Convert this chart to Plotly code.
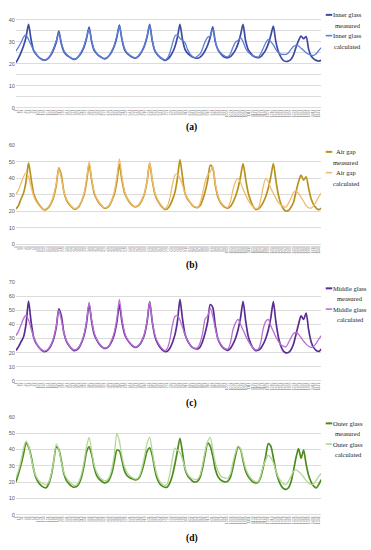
import plotly.graph_objects as go

# ---- shared x (hours, 2 h step) ----
hours = list(range(0, 243, 2))
samples = [6 * h + 1 for h in hours]   # 10-min record index

# ---- (a) Inner glass ----
inner_measured = [
    20.5, 22.5, 25, 28, 32, 37.8, 31, 26, 24.3, 23, 22.2, 21.6,
    21.8, 22.6, 24.2, 26.6, 29.8, 34.8, 29, 25.5, 24, 23.2, 22.5, 22,
    22.4, 23.5, 25.2, 27.6, 31.5, 36.6, 30, 26, 24.5, 23.5, 22.8, 22.2,
    22.6, 23.7, 25.5, 28, 32, 37.5, 31, 26.5, 24.8, 23.8, 23, 22.5,
    22.8, 24, 25.8, 28.3, 32.3, 37.8, 30.5, 26, 24.2, 23, 22.2, 21.5,
    22, 23.1, 25, 27.7, 32, 37.8, 31, 26.5, 24.8, 23.8, 23, 22.6,
    22.5, 23, 24.2, 26, 28.5, 32, 36.7, 30, 26.5, 24.8, 23.5, 22.8,
    22.7, 23.2, 24.5, 26.3, 29, 33, 37.8, 30.5, 26.5, 24.8, 23.5, 23,
    22.7, 23.2, 24.5, 26.3, 29, 32.8, 37, 30, 25.5, 23, 21.5, 21,
    21.2, 22, 24, 27.5, 30.5, 32.5, 31.3, 32.3, 26.5, 23.5, 22.2, 21.5,
    21.2, 21.5]
inner_calculated = [
    25.7, 27.5, 29.5, 32, 33, 31, 28.5, 26.3, 24.5, 23, 22, 21.6,
    21.8, 22.8, 24.6, 27.2, 30.5, 34, 29.5, 26, 24.3, 23.3, 22.6, 22,
    22.4, 23.7, 25.6, 28.2, 32, 35.8, 30.5, 26.5, 24.8, 23.6, 22.9, 22.4,
    22.7, 23.9, 25.8, 28.5, 32.5, 37, 31.3, 27, 25, 24, 23.2, 22.7,
    23, 24.2, 26, 28.6, 32.6, 37.5, 30.8, 26.3, 24.4, 23.2, 22.3, 21.7,
    22.5, 25, 29, 32.5, 33, 31.5, 30.5, 29.5, 26.5, 24.5, 23.3, 22.8,
    23.5, 24.5, 27, 30, 32, 32.5, 35.8, 30, 26.5, 25, 24, 23.3,
    23.2, 24.5, 27.5, 29.8, 30.5, 31.8, 30, 27, 25.3, 24.3, 23.6, 23.2,
    23, 24.5, 27, 29.5, 31, 30, 28.5, 26.5, 25, 24.3, 24.2, 24.2,
    25, 26.5, 27.8, 28.4, 28, 27, 26, 25, 24.3, 23.9, 23.8, 24.5,
    26, 27.3]

# ---- (b) Air gap ----
air_measured = [
    21.4, 23.5, 27.5, 31, 38, 49.4, 40, 31, 27, 24.5, 22.5, 21,
    21.2, 22.5, 25, 29, 36, 46.4, 42, 32, 27, 24.5, 22.8, 21.4,
    21.6, 23, 26, 30, 38, 48.8, 39, 31, 27.5, 25, 23.3, 22,
    22.2, 23.5, 26.5, 30.5, 38, 48.5, 39, 31.5, 28, 25.5, 23.8, 22.8,
    23, 24.3, 27, 31, 38.5, 49.4, 39, 31, 27, 24.5, 22.5, 21.2,
    21.5, 23.5, 27, 31.5, 40, 51.4, 41, 31, 27.5, 25.5, 23.5, 22.5,
    22.3, 23.5, 27, 32, 39, 48, 46.5, 36, 29, 25.5, 23.5, 22.4,
    22, 23, 25.5, 29, 34, 41, 49, 40, 31.5, 26.5, 23, 21.2,
    21.5, 23, 25.5, 29, 34, 41, 49, 39, 30, 24.5, 21.5, 20.2,
    20.5, 22.5, 25.5, 32, 38, 42, 39, 41, 34, 27.5, 24, 22,
    21, 22]
air_calculated = [
    30.4, 33, 37, 41, 43.4, 41, 35, 29.5, 26, 24, 22.2, 21.2,
    21.6, 23, 25.5, 30, 37, 46, 40, 32, 27.5, 25, 23.2, 21.8,
    22, 23.5, 26.5, 31, 39.5, 50.2, 40, 32, 28, 25.5, 23.6, 22.3,
    22.5, 24, 27, 32, 41, 51.8, 41, 32.5, 28.5, 26, 24.2, 23,
    23.3, 24.8, 27.5, 31.5, 39, 49.5, 39.5, 31.5, 27.5, 25, 23, 21.6,
    23, 28, 36, 42, 42.5, 40, 36, 31, 28, 25.5, 23.7, 22.8,
    22.5, 25, 31, 38, 42, 44, 47, 37, 30, 26, 24, 22.8,
    22.5, 26, 33, 38, 40, 37.5, 33.5, 30, 27, 24.5, 22.7, 21.8,
    22, 27, 35, 40, 38, 34, 31, 28, 25.5, 23.8, 23, 22.5,
    25, 28, 31.5, 32.4, 31, 28.5, 26, 23.5, 22.2, 22, 23.5, 26,
    29, 31]

# ---- (c) Middle glass ----
middle_measured = [
    21.4, 24, 27.5, 31, 40, 56.4, 42, 31, 26.5, 24, 22, 20.8,
    21, 22.5, 25.5, 30, 38, 51, 46, 34, 28, 25, 22.8, 21.4,
    21.8, 23.5, 27, 32, 41, 54.5, 42, 33, 29, 26, 24, 23,
    23.2, 24.8, 28, 33, 41.5, 54, 42, 33.5, 29.5, 27, 25, 23.8,
    24, 25.5, 28.5, 33, 42, 56, 42, 32, 27, 24, 22, 20.8,
    21, 23, 27, 32.5, 42, 57.6, 44, 33, 28.5, 25.5, 23.5, 22.8,
    22.6, 24, 28, 34, 42, 54, 52, 39, 30, 26, 23.5, 22.3,
    21.6, 23, 26, 30, 36, 44.5, 56.3, 43, 32, 26.5, 23, 21.4,
    21.6, 23, 26, 30, 36, 44.5, 56, 42, 31, 24.5, 21, 19.8,
    20, 22, 26, 33, 40, 46, 43.5, 48, 36, 27.5, 23.5, 21.5,
    20.8, 22.6]
middle_calculated = [
    32, 35, 39.5, 44, 46.4, 43, 37, 31, 27, 24.3, 22.2, 21,
    21.5, 23, 26, 31, 39, 50, 43, 34, 28.5, 25.5, 23.3, 22,
    22.3, 24, 27.5, 33, 42.5, 55.7, 43, 34, 29.5, 26.5, 24.5, 23.3,
    23.6, 25.3, 29, 34.5, 44, 57.6, 44, 34.5, 30, 27.3, 25.3, 24,
    24.3, 26, 29, 34, 43, 56, 42.5, 33, 28, 25, 22.8, 21.3,
    23, 29, 39, 45.5, 46, 43, 38, 32.5, 28.5, 25.5, 23.8, 23,
    23.5, 27, 34, 44, 46, 51.5, 46, 37, 30, 26.5, 24, 22.8,
    22.5, 27, 36, 41, 43.5, 40, 36, 32, 28.5, 25.5, 23.3, 22,
    22.3, 27, 37, 42, 43.5, 39, 35, 31, 28, 25.5, 24.5, 24,
    27, 30.5, 33.5, 34.2, 33, 30.5, 28, 26, 24.5, 23.7, 24.5, 26.5,
    29.5, 31.9]

# ---- (d) Outer glass ----
outer_measured = [
    20, 25, 30.5, 37, 44, 41.5, 36, 28, 22.5, 19.5, 17.8, 16.8,
    16.5, 19, 24, 33, 41.5, 40, 33, 25, 21, 19, 17.5, 16.8,
    17.2, 19, 23, 30, 38.5, 41.5, 37, 29, 24, 21.8, 20.5, 19.5,
    19.8, 21.5, 25.5, 32.5, 39.5, 39, 33.5, 27, 24, 22.8, 22, 21.4,
    21.5, 23, 27, 33, 39, 41, 36.5, 28, 22, 19, 17.5, 16.8,
    17, 19.5, 24, 31, 39, 46.8, 38, 28, 24, 22, 20.5, 20,
    20.5, 23, 29, 37, 44, 42, 36, 28, 23.5, 21.5, 20.5, 20,
    20.5, 23, 29, 36, 41.5, 40, 33, 27, 23.5, 21.5, 20, 19.4,
    20, 23, 29, 36, 43.5, 42, 35, 27, 21.5, 18, 16, 15.5,
    16.5, 20, 27, 35, 40.5, 34.5, 39.5, 31, 24, 20, 17.5, 16.4,
    18.5, 21.4]
outer_calculated = [
    22.4, 27, 33, 40.5, 45, 42, 35, 28, 23.5, 21, 19.5, 18.8,
    18.3, 20, 25, 33, 43.4, 40, 32, 26, 22.5, 20.5, 19, 18,
    18.2, 20.5, 25, 32.5, 42, 47.4, 39, 30.5, 26, 23.5, 21.8, 20.8,
    21, 23, 28, 37, 50, 45, 36, 29.5, 26, 24, 22.8, 22,
    22, 24, 29, 36, 44, 47.4, 39, 30, 24, 20.5, 18.8, 18,
    19, 25, 34, 40.8, 39.5, 38, 34, 28.5, 25, 23, 22, 21.5,
    21.8, 24.5, 31, 39, 45, 47.4, 40, 32, 27, 24, 22.8, 22.4,
    22.3, 25, 32, 38, 42, 40.5, 34.5, 28.5, 25, 22.5, 21, 20.2,
    20.2, 24, 30, 33.5, 36.4, 35, 32, 27, 23, 20.5, 19, 18.4,
    20.5, 23.5, 26.5, 27.4, 26.5, 25, 23, 21, 19.5, 18.4, 19, 21,
    23.5, 25.4]

panel_names = ["Inner glass", "Air gap", "Middle glass", "Outer glass"]
panel_tags = ["(a)", "(b)", "(c)", "(d)"]
measured_series = [inner_measured, air_measured, middle_measured, outer_measured]
calculated_series = [inner_calculated, air_calculated, middle_calculated, outer_calculated]
y_max = [45, 60, 70, 60]

# ---- styling ----
W, H = 371, 550
meas_colors = ["#3E4A9E", "#B8921E", "#5A2D91", "#4E8A1E"]
calc_colors = ["#5B82D8", "#F2BB6B", "#B96FD2", "#B2D796"]
# pixel positions (top of page = 0)
zero_px = [106, 244, 382, 517.3]
top_px = [5.6, 144, 282, 418.3]
legend_px = [12, 150.5, 288.5, 425]
tag_px = [126, 265, 405, 541.5]
legend_cx = [347.5, 346, 350, 348]

def py(px):
    return 1 - px / H

fig = go.Figure()
layout = dict(width=W, height=H, autosize=False,
              margin=dict(l=0, r=0, t=0, b=0),
              paper_bgcolor="white", plot_bgcolor="white",
              showlegend=False)
annotations = []
shapes = []
grid_c = "#DCDCDC"

for i in range(4):
    n = "" if i == 0 else str(i + 1)
    xa, ya = "x" + n, "y" + n
    fig.add_trace(go.Scatter(x=samples, y=measured_series[i], mode="lines",
                             name=panel_names[i] + " measured", xaxis=xa, yaxis=ya,
                             line=dict(color=meas_colors[i], width=1.7,
                                       shape="spline", smoothing=0.7),
                             hoverinfo="skip"))
    fig.add_trace(go.Scatter(x=samples, y=calculated_series[i], mode="lines",
                             name=panel_names[i] + " calculated", xaxis=xa, yaxis=ya,
                             line=dict(color=calc_colors[i], width=1.3,
                                       shape="spline", smoothing=0.7),
                             hoverinfo="skip"))
    layout["xaxis" + n] = dict(domain=[14 / W, 321 / W], range=[1, 1453], anchor=ya,
                               tickmode="linear", tick0=1, dtick=15, tickangle=-90,
                               tickfont=dict(size=3.5, color="#808080",
                                             family="Liberation Sans"),
                               showgrid=False, zeroline=False, showline=False,
                               ticks="", fixedrange=True)
    yax = dict(domain=[py(zero_px[i]), py(top_px[i])], range=[0, y_max[i]],
               anchor=xa, dtick=10, tick0=0, showgrid=True, gridcolor=grid_c,
               gridwidth=0.8, zeroline=True, zerolinecolor=grid_c, zerolinewidth=0.8,
               showline=False, ticks="",
               tickfont=dict(size=5.5, color="#595959", family="Liberation Sans"),
               fixedrange=True)
    if i == 0:
        yax["minor"] = dict(dtick=5, tick0=0, showgrid=True, gridcolor=grid_c,
                            gridwidth=0.8, ticks="")
    layout["yaxis" + n] = yax

    # legend (text + short keys)
    L = legend_px[i]
    rows = [(L, panel_names[i], meas_colors[i], 2.0),
            (L + 10.5, "measured", None, 0),
            (L + 21, panel_names[i], calc_colors[i], 1.6),
            (L + 31.5, "calculated", None, 0)]
    for yy, txt, col, lw in rows:
        annotations.append(dict(x=legend_cx[i] / W, y=py(yy), xref="paper", yref="paper",
                                text=txt, showarrow=False, xanchor="center",
                                yanchor="middle",
                                font=dict(family="Liberation Serif", size=6.5,
                                          color="#222222")))
        if col:
            shapes.append(dict(type="line", xref="paper", yref="paper",
                               x0=325.5 / W, x1=332 / W, y0=py(yy), y1=py(yy),
                               line=dict(color=col, width=lw)))
    annotations.append(dict(x=191 / W, y=py(tag_px[i]), xref="paper", yref="paper",
                            text="<b>" + panel_tags[i] + "</b>", showarrow=False,
                            xanchor="center", yanchor="middle",
                            font=dict(family="Liberation Serif", size=9.5,
                                      color="#000000")))

layout["annotations"] = annotations
layout["shapes"] = shapes
fig.update_layout(**layout)
fig.write_html(
    "out.html",
    config={"displayModeBar": False},
    post_script=("document.body.style.margin='0';"
                 "document.body.style.overflow='hidden';"
                 "document.documentElement.style.overflow='hidden';"))
